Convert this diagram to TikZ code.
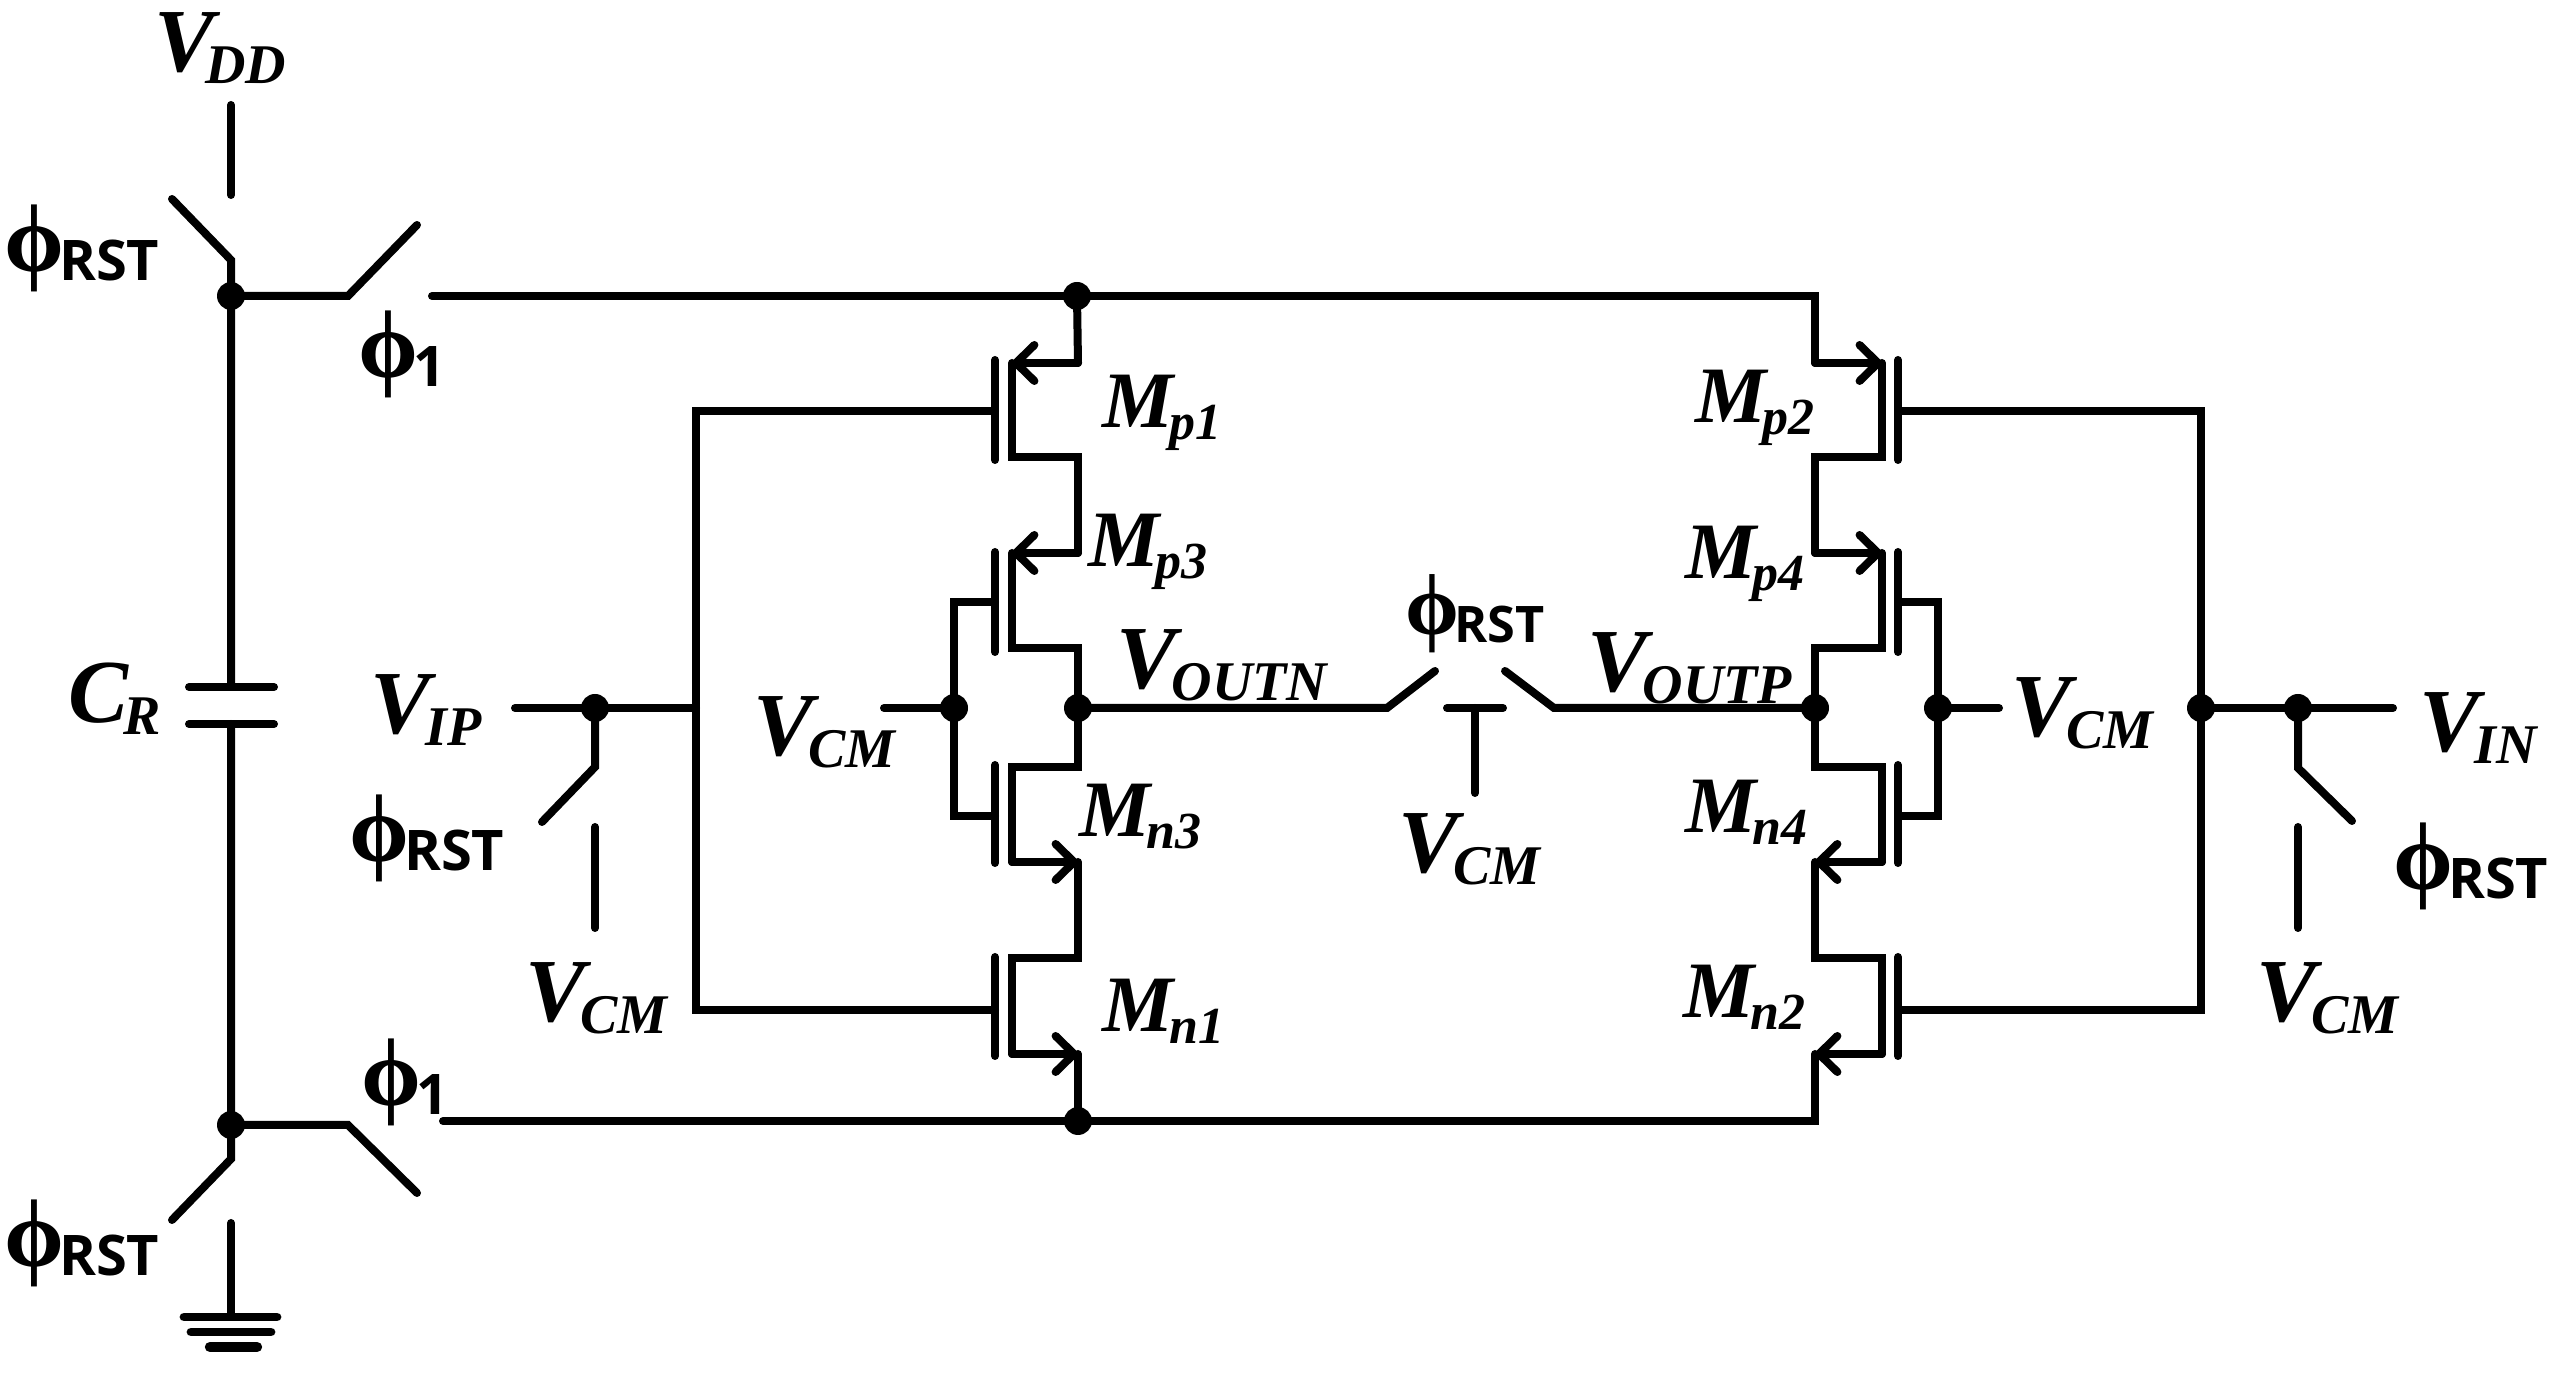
\documentclass[tikz,border=0pt]{standalone}
\usepackage{fontspec}
\setmainfont{Liberation Serif}
\newfontfamily\labsans{Open Sans}
\usetikzlibrary{arrows.meta}

\tikzset{
  wire/.style={line width=2pt, line cap=round, line join=miter},
  src/.style={wire, -{Straight Barb[length=4.6pt, width=9pt, round]}},
  dot/.style={circle, fill=black, inner sep=0pt, minimum size=7pt},
  lab/.style={anchor=base west, inner sep=0pt},
}

\newcommand{\vlab}[3][-1.3pt]{{\bfseries\itshape\fontsize{22.5}{22}\selectfont #2}\kern#1\raisebox{-3pt}{\bfseries\itshape\fontsize{14}{14}\selectfont #3}}
\newcommand{\mlab}[2]{{\bfseries\itshape\fontsize{20}{22}\selectfont #1}\kern-1pt\raisebox{-2.9pt}{\bfseries\itshape\fontsize{13}{14}\selectfont #2}}
\newcommand{\philab}[1]{\raisebox{2.4pt}{\bfseries\fontsize{24}{24}\selectfont ϕ}\kern-1.4pt{\labsans\bfseries\fontsize{14}{14}\selectfont #1}}

\begin{document}
\begin{tikzpicture}[x=0.25pt,y=-0.25pt]
\useasboundingbox (0,0) rectangle (2552,1376);

% left branch
\coordinate (vddt) at (231,105);
\coordinate (vddb) at (231,195);
\coordinate (rstua) at (172,199);
\coordinate (rstub) at (231,260);
\coordinate (nodeu) at (231,296);
\coordinate (captop) at (231,687);
\coordinate (capbot) at (231,724);
\coordinate (capta) at (189,687);
\coordinate (captb) at (274,687);
\coordinate (capba) at (189,724);
\coordinate (capbb) at (274,724);
\coordinate (noded) at (231,1125);
\coordinate (rstda) at (231,1159);
\coordinate (rstdb) at (172,1220);
\coordinate (gndt) at (231,1223);
\coordinate (gndb) at (231,1317);

% ground
\coordinate (gnda) at (184,1317);
\coordinate (gndc) at (277,1317);
\coordinate (gndd) at (191,1332);
\coordinate (gnde) at (271,1332);
\coordinate (gndf) at (210,1347);
\coordinate (gndg) at (257,1347);

% phi1 switches
\coordinate (swua) at (348,296);
\coordinate (swub) at (417,225);
\coordinate (railua) at (432,296);
\coordinate (railut) at (1077,296);
\coordinate (railub) at (1815,296);
\coordinate (swda) at (348,1125);
\coordinate (swdb) at (417,1193);
\coordinate (railda) at (443,1121);
\coordinate (raildt) at (1078,1121);
\coordinate (raildb) at (1815,1121);

% Mp1
\coordinate (mp1u) at (1078,363);
\coordinate (mp1s) at (1012,363);
\coordinate (mp1d) at (1012,457);
\coordinate (mp1l) at (1078,457);
\coordinate (mp1a) at (995,360);
\coordinate (mp1b) at (995,460);
\coordinate (mp1g) at (995,411);
% Mp3
\coordinate (mp3u) at (1078,553);
\coordinate (mp3s) at (1012,553);
\coordinate (mp3d) at (1012,648);
\coordinate (mp3l) at (1078,648);
\coordinate (mp3a) at (995,552);
\coordinate (mp3b) at (995,652);
\coordinate (mp3g) at (995,602);
% Mn3
\coordinate (mn3u) at (1078,767);
\coordinate (mn3s) at (1012,767);
\coordinate (mn3d) at (1012,862);
\coordinate (mn3l) at (1078,862);
\coordinate (mn3a) at (995,765);
\coordinate (mn3b) at (995,863);
\coordinate (mn3g) at (995,816);
% Mn1
\coordinate (mn1u) at (1078,958);
\coordinate (mn1s) at (1012,958);
\coordinate (mn1d) at (1012,1054);
\coordinate (mn1l) at (1078,1054);
\coordinate (mn1a) at (995,957);
\coordinate (mn1b) at (995,1056);
\coordinate (mn1g) at (995,1010);

% Mp2
\coordinate (mp2u) at (1815,363);
\coordinate (mp2s) at (1882,363);
\coordinate (mp2d) at (1882,457);
\coordinate (mp2l) at (1815,457);
\coordinate (mp2a) at (1898,360);
\coordinate (mp2b) at (1898,460);
\coordinate (mp2g) at (1898,411);
% Mp4
\coordinate (mp4u) at (1815,553);
\coordinate (mp4s) at (1882,553);
\coordinate (mp4d) at (1882,648);
\coordinate (mp4l) at (1815,648);
\coordinate (mp4a) at (1898,552);
\coordinate (mp4b) at (1898,652);
\coordinate (mp4g) at (1898,602);
% Mn4
\coordinate (mn4u) at (1815,767);
\coordinate (mn4s) at (1882,767);
\coordinate (mn4d) at (1882,862);
\coordinate (mn4l) at (1815,862);
\coordinate (mn4a) at (1898,765);
\coordinate (mn4b) at (1898,863);
\coordinate (mn4g) at (1898,816);
% Mn2
\coordinate (mn2u) at (1815,958);
\coordinate (mn2s) at (1882,958);
\coordinate (mn2d) at (1882,1054);
\coordinate (mn2l) at (1815,1054);
\coordinate (mn2a) at (1898,957);
\coordinate (mn2b) at (1898,1056);
\coordinate (mn2g) at (1898,1010);

% input side left
\coordinate (vipw) at (515,708);
\coordinate (vipt) at (595,708);
\coordinate (vipj) at (696,708);
\coordinate (vipa) at (595,767);
\coordinate (vipb) at (542,822);
\coordinate (vcmlt) at (595,827);
\coordinate (vcmlb) at (595,928);
\coordinate (gatelu) at (696,411);
\coordinate (gateld) at (696,1010);
\coordinate (vcmw) at (884,708);
\coordinate (stubl) at (954,708);
\coordinate (stublu) at (954,602);
\coordinate (stubld) at (954,816);

% input side right
\coordinate (vinw) at (2393,708);
\coordinate (vint) at (2298,708);
\coordinate (vinj) at (2201,708);
\coordinate (vina) at (2298,768);
\coordinate (vinb) at (2352,821);
\coordinate (vcmrt) at (2298,827);
\coordinate (vcmrb) at (2298,928);
\coordinate (gateru) at (2201,411);
\coordinate (gaterd) at (2201,1010);
\coordinate (vcme) at (1999,708);
\coordinate (stubr) at (1938,708);
\coordinate (stubru) at (1938,602);
\coordinate (stubrd) at (1938,816);

% output switch
\coordinate (outn) at (1078,708);
\coordinate (outp) at (1815,708);
\coordinate (swla) at (1387,708);
\coordinate (swlb) at (1435,671);
\coordinate (swra) at (1554,708);
\coordinate (swrb) at (1505,671);
\coordinate (teea) at (1447,708);
\coordinate (teeb) at (1503,708);
\coordinate (teec) at (1475,708);
\coordinate (teed) at (1475,793);

% A izquierda
\draw[wire] (vddt) -- (vddb);
\draw[wire] (rstua) -- (rstub) -- (nodeu) -- (captop);
\draw[wire] (capta) -- (captb);
\draw[wire] (capba) -- (capbb);
\draw[wire] (capbot) -- (noded) -- (rstda) -- (rstdb);
\draw[wire] (gndt) -- (gndb);
\draw[wire, line width=2.2pt] (gnda) -- (gndc);
\draw[wire, line width=2.2pt] (gndd) -- (gnde);
\draw[wire, line width=2.6pt] (gndf) -- (gndg);
\draw[wire] (nodeu) -- (swua) -- (swub);
\draw[wire] (noded) -- (swda) -- (swdb);
\draw[wire] (railua) -- (railub) -- (mp2u);
\draw[wire] (railda) -- (raildb) -- (mn2l);
\draw[wire] (railut) -- (mp1u);

% A transistores izquierda
\draw[src] (mp1u) -- (mp1s);
\draw[wire] (mp1s) -- (mp1d) -- (mp1l) -- (mp3u);
\draw[src] (mp3u) -- (mp3s);
\draw[wire] (mp3s) -- (mp3d) -- (mp3l) -- (mn3u) -- (mn3s) -- (mn3d);
\draw[src] (mn3d) -- (mn3l);
\draw[wire] (mn3l) -- (mn1u) -- (mn1s) -- (mn1d);
\draw[src] (mn1d) -- (mn1l);
\draw[wire] (mn1l) -- (raildt);
\draw[wire] (mp1a) -- (mp1b);
\draw[wire] (mp3a) -- (mp3b);
\draw[wire] (mn3a) -- (mn3b);
\draw[wire] (mn1a) -- (mn1b);

% A transistores derecha
\draw[src] (mp2u) -- (mp2s);
\draw[wire] (mp2s) -- (mp2d) -- (mp2l) -- (mp4u);
\draw[src] (mp4u) -- (mp4s);
\draw[wire] (mp4s) -- (mp4d) -- (mp4l) -- (mn4u) -- (mn4s) -- (mn4d);
\draw[src] (mn4d) -- (mn4l);
\draw[wire] (mn4l) -- (mn2u) -- (mn2s) -- (mn2d);
\draw[src] (mn2d) -- (mn2l);
\draw[wire] (mp2a) -- (mp2b);
\draw[wire] (mp4a) -- (mp4b);
\draw[wire] (mn4a) -- (mn4b);
\draw[wire] (mn2a) -- (mn2b);

% A puertas
\draw[wire] (mp1g) -- (gatelu) -- (gateld) -- (mn1g);
\draw[wire] (vipw) -- (vipj);
\draw[wire] (vipt) -- (vipa) -- (vipb);
\draw[wire] (vcmlt) -- (vcmlb);
\draw[wire] (vcmw) -- (stubl);
\draw[wire] (mp3g) -- (stublu) -- (stubld) -- (mn3g);
\draw[wire] (mp2g) -- (gateru) -- (gaterd) -- (mn2g);
\draw[wire] (vinw) -- (vinj);
\draw[wire] (vint) -- (vina) -- (vinb);
\draw[wire] (vcmrt) -- (vcmrb);
\draw[wire] (vcme) -- (stubr);
\draw[wire] (mp4g) -- (stubru) -- (stubrd) -- (mn4g);

% A salida
\draw[wire] (outn) -- (swla) -- (swlb);
\draw[wire] (outp) -- (swra) -- (swrb);
\draw[wire] (teea) -- (teeb);
\draw[wire] (teec) -- (teed);

% V puntos
\node[dot] (dnodeu) at (nodeu) {};
\node[dot] (dnoded) at (noded) {};
\node[dot] (drailut) at (railut) {};
\node[dot] (draildt) at (raildt) {};
\node[dot] (dvipt) at (vipt) {};
\node[dot] (dstubl) at (stubl) {};
\node[dot] (doutn) at (outn) {};
\node[dot] (doutp) at (outp) {};
\node[dot] (dstubr) at (stubr) {};
\node[dot] (dvinj) at (vinj) {};
\node[dot] (dvint) at (vint) {};

% V etiquetas
\node[lab] (vdd) at (154,72) {\vlab[-2.4pt]{V}{DD}};
\node[lab] (rstu) at (4,281) {\philab{RST}};
\node[lab] (phiu) at (358,387) {\philab{1}};
\node[lab] (cr) at (68,723) {\vlab{C}{R}};
\node[lab] (vip) at (370,734) {\vlab{V}{IP}};
\node[lab] (rstl) at (349,871) {\philab{RST}};
\node[lab] (vcml) at (525,1022) {\vlab{V}{CM}};
\node[lab] (phid) at (361,1115) {\philab{1}};
\node[lab] (rstd) at (4,1276) {\philab{RST}};
\node[lab] (vcmi) at (753,756) {\vlab{V}{CM}};
\node[lab] (voutn) at (1116,689) {\vlab{V}{OUTN}};
\node[lab] (rstm) at (1405,643) {\scalebox{.9}{\philab{RST}}};
\node[lab] (vcmm) at (1398,873) {\vlab{V}{CM}};
\node[lab] (voutp) at (1587,692) {\vlab{V}{OUTP}};
\node[lab] (vcmd) at (2011,737) {\vlab{V}{CM}};
\node[lab] (vin) at (2419,752) {\vlab{V}{IN}};
\node[lab] (rstr) at (2393,899) {\philab{RST}};
\node[lab] (vcmr) at (2256,1022) {\vlab{V}{CM}};

\node[lab] (lmp1) at (1102,428) {\mlab{M}{p1}};
\node[lab] (lmp3) at (1088,567) {\mlab{M}{p3}};
\node[lab] (lmn3) at (1079,837) {\mlab{M}{n3}};
\node[lab] (lmn1) at (1102,1032) {\mlab{M}{n1}};
\node[lab] (lmp2) at (1695,423) {\mlab{M}{p2}};
\node[lab] (lmp4) at (1685,579) {\mlab{M}{p4}};
\node[lab] (lmn4) at (1685,833) {\mlab{M}{n4}};
\node[lab] (lmn2) at (1683,1018) {\mlab{M}{n2}};
\end{tikzpicture}
\end{document}
